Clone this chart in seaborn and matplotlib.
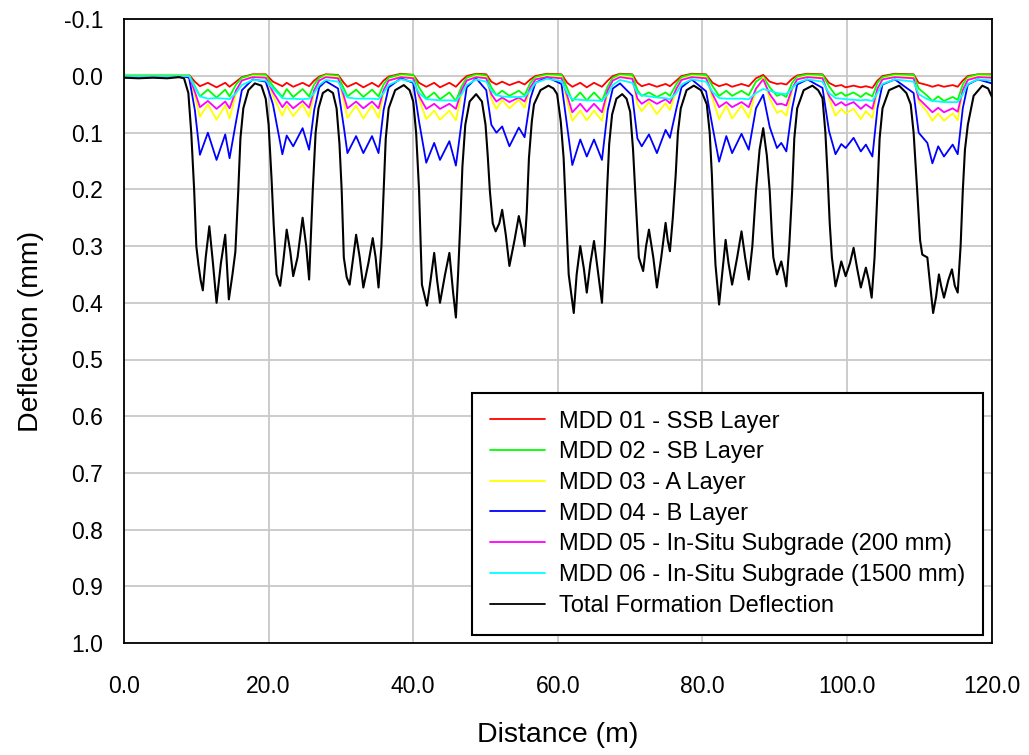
"""Multi-depth deflectometer deflections along the test section."""
import matplotlib

matplotlib.use("Agg")
import matplotlib.pyplot as plt
import numpy as np
import pandas as pd
import seaborn as sns
from matplotlib.ticker import FormatStrFormatter

# distance stations (m) shared by the six MDD layer traces
X_MDD = [
    0.0, 8.0, 9.0,
    9.8, 10.5, 11.6, 12.8, 14.0, 14.6, 15.5, 16.3, 17.8, 19.6,
    20.6, 21.9, 22.5, 23.4, 24.7, 25.6, 26.3, 27.0, 27.9, 29.6,
    30.4, 30.9, 32.1, 33.1, 34.3, 35.2, 35.9, 36.6, 38.3, 40.0,
    40.8, 41.8, 42.9, 43.7, 45.0, 45.9, 46.7, 47.4, 48.7, 50.1,
    50.8, 51.5, 52.3, 53.3, 54.6, 55.4, 56.2, 56.9, 58.5, 60.5,
    61.3, 62.0, 63.1, 64.0, 65.0, 66.1, 66.9, 67.6, 68.6, 70.3,
    71.0, 71.6, 72.6, 73.7, 74.9, 75.5, 76.4, 77.1, 78.5, 80.5,
    81.4, 82.3, 83.3, 84.1, 85.4, 86.4, 87.4, 88.4, 89.3, 90.3, 90.9, 91.6, 92.4, 93.1, 94.5, 96.6,
    97.5, 98.4, 99.2, 99.8, 100.9, 101.9, 102.6, 103.5, 104.2, 104.9, 106.6, 109.2,
    109.9, 111.1, 111.8, 112.6, 113.4, 114.6, 115.3, 116.0, 116.7, 118.1, 120.0,
]

MDD01 = [
    -0.002, -0.002, -0.002,
    0.010, 0.018, 0.012, 0.020, 0.012, 0.019, 0.010, 0.002, -0.003, -0.003,
    0.010, 0.018, 0.012, 0.019, 0.012, 0.018, 0.008, 0.001, -0.003, -0.002,
    0.012, 0.019, 0.012, 0.020, 0.012, 0.019, 0.008, 0.001, -0.004, -0.002,
    0.012, 0.019, 0.012, 0.020, 0.012, 0.019, 0.008, 0.000, -0.004, -0.003,
    0.010, 0.015, 0.010, 0.016, 0.010, 0.015, 0.006, 0.000, -0.004, -0.003,
    0.012, 0.019, 0.012, 0.020, 0.012, 0.019, 0.008, 0.000, -0.004, -0.003,
    0.012, 0.018, 0.014, 0.019, 0.014, 0.018, 0.008, 0.000, -0.004, -0.003,
    0.012, 0.018, 0.014, 0.019, 0.014, 0.018, 0.004, -0.002, 0.010, 0.014, 0.013, 0.015, 0.005, -0.001, -0.004, -0.003,
    0.012, 0.018, 0.016, 0.020, 0.017, 0.020, 0.018, 0.021, 0.008, 0.000, -0.004, -0.003,
    0.012, 0.016, 0.019, 0.016, 0.019, 0.016, 0.019, 0.008, 0.000, -0.003, -0.003,
]

MDD02 = [
    -0.002, -0.002, -0.002,
    0.018, 0.036, 0.024, 0.038, 0.024, 0.036, 0.015, 0.003, -0.002, -0.002,
    0.018, 0.037, 0.023, 0.037, 0.023, 0.036, 0.015, 0.003, -0.002, -0.001,
    0.022, 0.036, 0.024, 0.037, 0.024, 0.036, 0.015, 0.003, -0.003, -0.002,
    0.020, 0.040, 0.029, 0.041, 0.029, 0.044, 0.018, 0.003, -0.003, -0.001,
    0.020, 0.034, 0.026, 0.035, 0.026, 0.034, 0.012, 0.002, -0.003, -0.002,
    0.022, 0.044, 0.029, 0.043, 0.029, 0.044, 0.018, 0.003, -0.003, -0.002,
    0.025, 0.035, 0.029, 0.037, 0.029, 0.035, 0.014, 0.002, -0.003, -0.002,
    0.018, 0.035, 0.026, 0.035, 0.026, 0.034, 0.010, 0.001, 0.020, 0.035, 0.032, 0.037, 0.012, 0.001, -0.003, -0.002,
    0.018, 0.034, 0.029, 0.035, 0.029, 0.037, 0.030, 0.036, 0.012, 0.002, -0.003, -0.002,
    0.022, 0.035, 0.044, 0.036, 0.044, 0.037, 0.042, 0.015, 0.002, -0.003, -0.002,
]

MDD03 = [
    -0.001, -0.001, -0.001,
    0.035, 0.072, 0.050, 0.077, 0.052, 0.075, 0.030, 0.008, 0.000, 0.001,
    0.035, 0.070, 0.052, 0.071, 0.050, 0.072, 0.030, 0.008, 0.000, 0.002,
    0.045, 0.074, 0.052, 0.075, 0.052, 0.074, 0.030, 0.008, 0.000, 0.002,
    0.040, 0.076, 0.061, 0.077, 0.061, 0.078, 0.030, 0.008, 0.000, 0.002,
    0.040, 0.058, 0.042, 0.057, 0.042, 0.056, 0.022, 0.005, 0.000, 0.002,
    0.045, 0.079, 0.061, 0.078, 0.061, 0.079, 0.030, 0.008, 0.000, 0.003,
    0.050, 0.062, 0.046, 0.067, 0.048, 0.060, 0.025, 0.006, 0.000, 0.002,
    0.040, 0.076, 0.052, 0.075, 0.052, 0.074, 0.025, 0.003, 0.040, 0.065, 0.061, 0.070, 0.025, 0.005, 0.000, 0.002,
    0.040, 0.070, 0.058, 0.066, 0.058, 0.076, 0.062, 0.074, 0.025, 0.005, 0.000, 0.002,
    0.045, 0.064, 0.079, 0.066, 0.079, 0.066, 0.078, 0.025, 0.005, 0.000, 0.001,
]

MDD04 = [
    0.000, 0.000, 0.003,
    0.060, 0.139, 0.100, 0.148, 0.103, 0.145, 0.080, 0.025, 0.006, 0.010,
    0.050, 0.138, 0.105, 0.124, 0.092, 0.130, 0.060, 0.020, 0.009, 0.022,
    0.090, 0.136, 0.106, 0.136, 0.106, 0.136, 0.060, 0.020, 0.004, 0.012,
    0.080, 0.153, 0.118, 0.148, 0.115, 0.158, 0.080, 0.020, 0.004, 0.025,
    0.086, 0.100, 0.089, 0.124, 0.091, 0.108, 0.040, 0.012, 0.002, 0.014,
    0.090, 0.157, 0.112, 0.142, 0.112, 0.148, 0.060, 0.022, 0.013, 0.035,
    0.110, 0.124, 0.103, 0.136, 0.095, 0.109, 0.057, 0.020, 0.006, 0.027,
    0.090, 0.151, 0.106, 0.136, 0.102, 0.130, 0.057, 0.033, 0.090, 0.127, 0.118, 0.133, 0.057, 0.015, 0.006, 0.021,
    0.097, 0.138, 0.120, 0.127, 0.109, 0.133, 0.121, 0.142, 0.057, 0.015, 0.006, 0.030,
    0.100, 0.118, 0.154, 0.124, 0.142, 0.121, 0.138, 0.057, 0.015, 0.006, 0.013,
]

MDD05 = [
    0.000, 0.000, 0.000,
    0.028, 0.055, 0.044, 0.058, 0.045, 0.057, 0.025, 0.008, 0.002, 0.003,
    0.028, 0.055, 0.045, 0.057, 0.044, 0.056, 0.025, 0.008, 0.002, 0.004,
    0.035, 0.057, 0.045, 0.057, 0.045, 0.057, 0.025, 0.008, 0.002, 0.004,
    0.035, 0.058, 0.049, 0.058, 0.049, 0.058, 0.025, 0.008, 0.002, 0.004,
    0.032, 0.045, 0.038, 0.046, 0.038, 0.045, 0.020, 0.006, 0.002, 0.004,
    0.035, 0.064, 0.049, 0.063, 0.049, 0.064, 0.025, 0.008, 0.002, 0.005,
    0.040, 0.049, 0.041, 0.049, 0.041, 0.048, 0.022, 0.007, 0.002, 0.004,
    0.032, 0.055, 0.046, 0.055, 0.046, 0.055, 0.022, 0.006, 0.032, 0.050, 0.049, 0.052, 0.022, 0.006, 0.002, 0.004,
    0.035, 0.052, 0.046, 0.052, 0.046, 0.058, 0.050, 0.058, 0.022, 0.006, 0.002, 0.004,
    0.040, 0.055, 0.064, 0.056, 0.064, 0.057, 0.063, 0.025, 0.007, 0.002, 0.003,
]

MDD06 = [
    0.000, 0.000, 0.000,
    0.020, 0.036, 0.040, 0.039, 0.040, 0.041, 0.030, 0.016, 0.007, 0.008,
    0.022, 0.039, 0.040, 0.040, 0.041, 0.040, 0.030, 0.016, 0.007, 0.010,
    0.028, 0.038, 0.040, 0.040, 0.040, 0.041, 0.030, 0.016, 0.006, 0.010,
    0.030, 0.041, 0.042, 0.043, 0.043, 0.044, 0.032, 0.016, 0.006, 0.010,
    0.026, 0.034, 0.036, 0.037, 0.037, 0.036, 0.026, 0.012, 0.005, 0.009,
    0.030, 0.041, 0.042, 0.043, 0.043, 0.044, 0.032, 0.016, 0.007, 0.012,
    0.030, 0.034, 0.036, 0.038, 0.039, 0.041, 0.030, 0.015, 0.006, 0.010,
    0.028, 0.039, 0.040, 0.040, 0.040, 0.041, 0.030, 0.023, 0.026, 0.030, 0.031, 0.032, 0.022, 0.012, 0.006, 0.010,
    0.030, 0.039, 0.040, 0.041, 0.042, 0.043, 0.042, 0.044, 0.030, 0.014, 0.006, 0.010,
    0.032, 0.041, 0.044, 0.045, 0.046, 0.046, 0.046, 0.032, 0.014, 0.006, 0.008,
]

# total formation deflection, read at its own stations
X_TOTAL = [
    0.0, 2.0, 4.0, 6.0, 7.6, 8.3, 8.9, 9.3, 9.7, 10.0,
    10.3, 10.6, 10.9, 11.3, 11.8, 12.3, 12.8, 13.4, 14.0, 14.5,
    15.0, 15.4, 15.8, 16.1, 16.5, 17.2, 18.1, 19.0, 19.6, 20.0,
    20.4, 20.7, 21.1, 21.6, 22.0, 22.5, 23.0, 23.4, 24.0, 24.7,
    25.2, 25.6, 26.1, 26.5, 26.9, 27.5, 28.2, 28.9, 29.4, 29.8,
    30.1, 30.4, 30.8, 31.2, 31.7, 32.1, 32.6, 33.1, 33.8, 34.4,
    34.8, 35.2, 35.6, 35.9, 36.2, 36.6, 37.5, 38.7, 39.5, 40.0,
    40.4, 40.8, 41.2, 41.9, 42.4, 42.9, 43.3, 43.7, 44.4, 45.0,
    45.5, 45.9, 46.2, 46.5, 46.8, 47.2, 47.8, 48.7, 49.5, 50.0,
    50.3, 50.6, 51.0, 51.4, 51.9, 52.3, 52.8, 53.3, 54.0, 54.6,
    55.0, 55.4, 55.7, 56.0, 56.4, 56.7, 57.6, 58.7, 59.4, 59.9,
    60.4, 60.8, 61.2, 61.5, 62.2, 62.6, 63.1, 63.6, 64.0, 64.5,
    65.0, 65.6, 66.1, 66.5, 66.8, 67.1, 67.5, 68.1, 68.9, 69.5,
    70.0, 70.4, 70.7, 71.2, 71.8, 72.2, 72.6, 73.2, 73.7, 74.3,
    74.9, 75.2, 75.5, 75.9, 76.3, 76.6, 77.0, 77.8, 78.8, 79.8,
    80.6, 81.0, 81.3, 81.6, 81.8, 82.3, 82.8, 83.2, 83.6, 84.1,
    84.8, 85.4, 85.9, 86.4, 86.9, 87.4, 87.9, 88.4, 88.9, 89.3,
    89.6, 89.8, 90.3, 90.9, 91.3, 91.6, 92.0, 92.4, 92.7, 93.1,
    94.0, 95.2, 96.0, 96.6, 97.0, 97.3, 97.6, 97.9, 98.4, 98.8,
    99.2, 99.8, 100.4, 100.9, 101.4, 101.9, 102.6, 103.0, 103.4, 103.8,
    104.2, 104.5, 104.9, 105.8, 107.2, 108.2, 108.8, 109.2, 109.7, 110.1,
    110.4, 111.1, 111.5, 111.9, 112.3, 112.7, 113.0, 113.4, 114.0, 114.5,
    114.9, 115.3, 115.7, 116.0, 116.3, 116.7, 117.5, 118.7, 119.5, 120.0,
]
TOTAL = [
    0.003, 0.004, 0.003, 0.004, 0.002, 0.004, 0.030, 0.100, 0.200, 0.300,
    0.333, 0.360, 0.378, 0.320, 0.265, 0.330, 0.400, 0.330, 0.280, 0.394,
    0.350, 0.310, 0.203, 0.110, 0.057, 0.025, 0.013, 0.017, 0.040, 0.086,
    0.180, 0.262, 0.350, 0.370, 0.330, 0.271, 0.310, 0.353, 0.320, 0.250,
    0.300, 0.359, 0.203, 0.100, 0.057, 0.030, 0.024, 0.030, 0.057, 0.120,
    0.200, 0.320, 0.355, 0.368, 0.320, 0.280, 0.320, 0.373, 0.330, 0.286,
    0.320, 0.373, 0.300, 0.203, 0.110, 0.057, 0.025, 0.016, 0.025, 0.045,
    0.100, 0.200, 0.368, 0.405, 0.360, 0.312, 0.360, 0.400, 0.350, 0.312,
    0.380, 0.426, 0.350, 0.262, 0.160, 0.086, 0.045, 0.032, 0.045, 0.086,
    0.140, 0.203, 0.260, 0.274, 0.260, 0.236, 0.280, 0.335, 0.290, 0.247,
    0.270, 0.300, 0.240, 0.145, 0.080, 0.050, 0.025, 0.017, 0.022, 0.032,
    0.080, 0.145, 0.260, 0.350, 0.418, 0.350, 0.300, 0.340, 0.382, 0.330,
    0.291, 0.350, 0.400, 0.300, 0.203, 0.120, 0.068, 0.040, 0.032, 0.040,
    0.063, 0.130, 0.203, 0.320, 0.344, 0.300, 0.271, 0.320, 0.373, 0.320,
    0.259, 0.290, 0.309, 0.250, 0.174, 0.100, 0.057, 0.025, 0.017, 0.025,
    0.050, 0.100, 0.174, 0.280, 0.333, 0.403, 0.340, 0.289, 0.330, 0.368,
    0.320, 0.274, 0.320, 0.359, 0.300, 0.203, 0.130, 0.092, 0.140, 0.203,
    0.280, 0.320, 0.350, 0.327, 0.350, 0.371, 0.300, 0.203, 0.110, 0.057,
    0.025, 0.017, 0.025, 0.039, 0.100, 0.174, 0.260, 0.320, 0.371, 0.350,
    0.327, 0.353, 0.330, 0.303, 0.340, 0.373, 0.338, 0.360, 0.391, 0.320,
    0.203, 0.110, 0.057, 0.025, 0.017, 0.030, 0.050, 0.100, 0.203, 0.290,
    0.315, 0.320, 0.370, 0.418, 0.390, 0.350, 0.370, 0.391, 0.360, 0.341,
    0.370, 0.382, 0.300, 0.203, 0.130, 0.086, 0.035, 0.017, 0.022, 0.036,
]

LABELS = [
    "MDD 01 - SSB Layer",
    "MDD 02 - SB Layer",
    "MDD 03 - A Layer",
    "MDD 04 - B Layer",
    "MDD 05 - In-Situ Subgrade (200 mm)",
    "MDD 06 - In-Situ Subgrade (1500 mm)",
    "Total Formation Deflection",
]
COLORS = ["#ff0000", "#00ff00", "#ffff00", "#0000ff", "#ff00ff", "#00ffff", "#000000"]

X_TICKS = [0, 20, 40, 60, 80, 100, 120]
Y_TICKS = [-0.1, 0.0, 0.1, 0.2, 0.3, 0.4, 0.5, 0.6, 0.7, 0.8, 0.9, 1.0]

sns.set_style("white")
plt.rcParams["font.family"] = ["Liberation Sans", "DejaVu Sans"]
plt.rcParams["axes.unicode_minus"] = False
plt.rcParams["text.color"] = "black"
plt.rcParams["axes.labelcolor"] = "black"

frames = []
for label, y in zip(LABELS[:6], [MDD01, MDD02, MDD03, MDD04, MDD05, MDD06]):
    frames.append(pd.DataFrame({"distance": X_MDD, "deflection": y, "series": label}))
frames.append(pd.DataFrame({"distance": X_TOTAL, "deflection": TOTAL, "series": LABELS[6]}))
df = pd.concat(frames, ignore_index=True)

fig = plt.figure(figsize=(10.29, 7.55), dpi=100)
ax = fig.add_axes([124 / 1029, 1 - 643 / 755, 867.7 / 1029, 623.7 / 755])

for label, color in zip(LABELS, COLORS):
    sub = df[df["series"] == label]
    lw = 1.5 if color == "#000000" else 1.3
    sns.lineplot(data=sub, x="distance", y="deflection", color=color, lw=lw,
                 label=label, sort=False, estimator=None, ax=ax)

ax.set_xlim(0, 120)
ax.set_ylim(1.0, -0.1)
ax.set_xticks(X_TICKS)
ax.set_yticks(Y_TICKS)
ax.xaxis.set_major_formatter(FormatStrFormatter("%.1f"))
ax.yaxis.set_major_formatter(FormatStrFormatter("%.1f"))
ax.grid(True, color="#c8c8c8", lw=1.3)
ax.set_axisbelow(True)
for sp in ax.spines.values():
    sp.set_visible(True)
    sp.set_color("black")
    sp.set_linewidth(1.3)
ax.tick_params(axis="both", direction="out", length=7, width=1.2, colors="black",
               labelcolor="black", labelsize=16.5)
ax.tick_params(axis="x", pad=16)
ax.tick_params(axis="y", pad=8)
ax.set_xlabel("Distance (m)", fontsize=20.5, labelpad=17)
ax.set_ylabel("Deflection (mm)", fontsize=20.5, labelpad=14)

leg = ax.legend(loc="lower right", bbox_to_anchor=(0.990, 0.013), frameon=True, fancybox=False,
                edgecolor="black", framealpha=1, fontsize=17, handlelength=2.33,
                handletextpad=0.6, labelspacing=0.37, borderpad=0.76, borderaxespad=0)
leg.get_frame().set_linewidth(1.5)
for line in leg.get_lines():
    line.set_linewidth(1.3)

plt.savefig("out.png", dpi=100)
plt.close()
